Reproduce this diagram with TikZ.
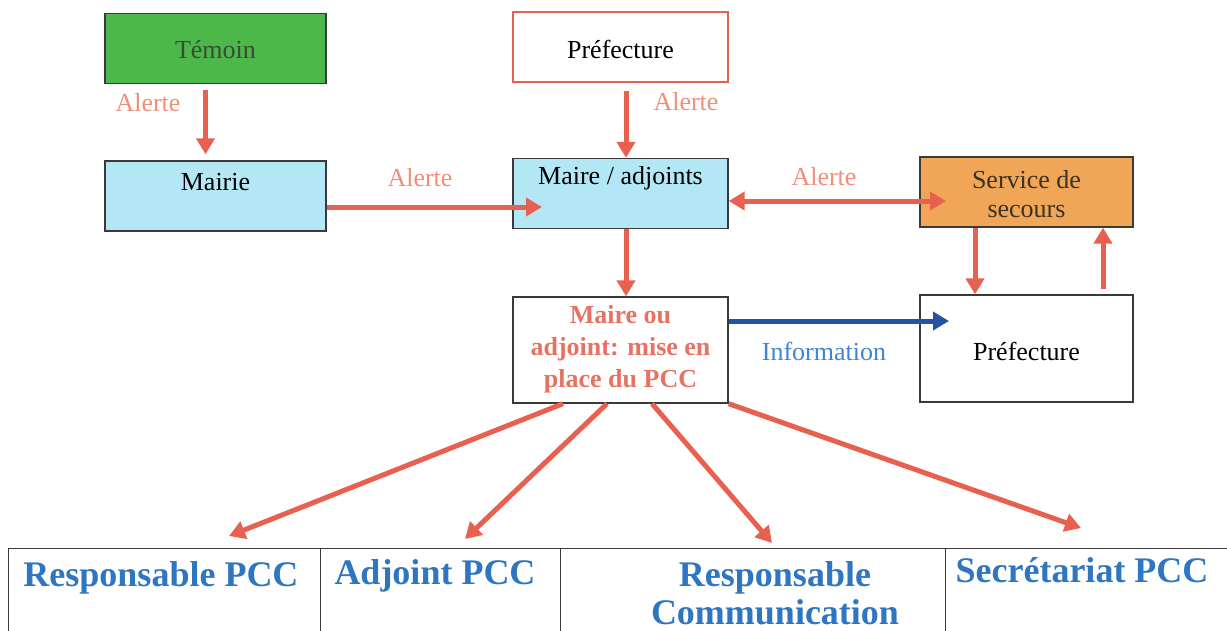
\documentclass[tikz,border=0pt]{standalone}
\usepackage{fontspec}
\setmainfont{Liberation Serif}
\usetikzlibrary{arrows.meta}
\definecolor{arrred}{HTML}{E8604F}
\definecolor{lblred}{HTML}{F08E78}
\definecolor{boldred}{HTML}{E87262}
\definecolor{grn}{HTML}{4DB84A}
\definecolor{lblue}{HTML}{B3E7F5}
\definecolor{orng}{HTML}{F0A656}
\definecolor{darkblue}{HTML}{2452A4}
\definecolor{infoblue}{HTML}{3C86D4}
\definecolor{pccblue}{HTML}{2E76C2}
\definecolor{edge}{HTML}{3A3A3A}
\definecolor{temtxt}{HTML}{3B4A36}
\definecolor{sertxt}{HTML}{3A3222}
\tikzset{
  box/.style={draw=edge, line width=1.3pt, rectangle, minimum width=221pt, minimum height=70pt, inner sep=0pt},
  txt/.style={font=\fontsize{26}{30}\selectfont, text=black, inner sep=0pt},
  lbl/.style={font=\fontsize{26}{30}\selectfont, text=lblred, inner sep=0pt},
  tip/.style={},
  arr/.style={draw=arrred, line width=5pt, -{Triangle[length=16pt,width=18pt]}},
  darr/.style={draw=arrred, line width=5pt, {Triangle[length=16pt,width=18pt]}-{Triangle[length=16pt,width=18pt]}},
  barr/.style={draw=darkblue, line width=5pt, -{Triangle[length=16pt,width=18pt]}},
  pcc/.style={font=\bfseries\fontsize{36}{38}\selectfont, text=pccblue, inner sep=0pt, align=center},
  cell/.style={draw=edge, line width=1.2pt, rectangle, anchor=north west, inner sep=0pt, minimum height=120pt}
}
\begin{document}
\begin{tikzpicture}[x=1pt,y=-1pt]
\useasboundingbox (0,0) rectangle (1227,630);
% boxes
\node[box, fill=grn] (temoin) at (215.5,48.5) {};
\node[txt, text=temtxt] (temoinT) at (215.5,50) {Témoin};
\node[box, fill=lblue] (mairie) at (215.5,196) {};
\node[txt] (mairieT) at (215.5,182) {Mairie};
\node[box, draw=arrred, minimum width=215pt] (pref1) at (620.5,47) {};
\node[txt] (pref1T) at (620.5,49) {Préfecture};
\node[box, fill=lblue, minimum width=215pt] (maire) at (620.5,193.5) {};
\node[txt] (maireT) at (620.5,178) {Maire / adjoints};
\node[box, fill=orng, minimum width=213pt] (service) at (1026.5,192) {};
\node[txt, text=sertxt, align=center] (serviceT) at (1026.5,194) {Service de\\[-1pt]secours};
\node[box, minimum width=213pt, minimum height=107pt] (pref2) at (1026.5,348.5) {};
\node[txt] (pref2T) at (1026.5,351) {Préfecture};
\node[box, minimum width=215pt, minimum height=106pt] (maireou) at (620.5,350) {};
\node[txt, font=\bfseries\fontsize{26}{32}\selectfont, text=boldred, align=center] (maireouT) at (620.5,349) {Maire ou\\adjoint: mise en\\place du PCC};
% labels
\node[lbl] (l1) at (148,103) {Alerte};
\node[lbl] (l2) at (686,102) {Alerte};
\node[lbl] (l3) at (420,178) {Alerte};
\node[lbl] (l4) at (824,177) {Alerte};
\node[lbl, text=infoblue] (l5) at (824,351) {Information};
% coordinates
\coordinate (c1) at (542,207);
\coordinate (c2) at (946,201);
\coordinate (c3) at (949,321);
\coordinate (e1) at (229,536);
\coordinate (e2) at (465,539);
\coordinate (e3) at (772,543);
\coordinate (e4) at (1081,528);
% arrows
\draw[arr] ([xshift=-10pt,yshift=-6pt]temoin.south) -- ([xshift=-10pt,yshift=6pt]mairie.north);
\draw[arr] ([xshift=5.5pt,yshift=-8pt]pref1.south) -- ([xshift=5.5pt]maire.north);
\draw[arr] ([yshift=-13.5pt]maire.west -| mairie.east) -- (c1);
\draw[darr] ([yshift=-7.5pt]maire.east) -- (c2);
\draw[arr] ([xshift=-51.5pt]service.south) -- ([xshift=-51.5pt]pref2.north);
\draw[arr] ([xshift=76.5pt,yshift=5pt]pref2.north) -- ([xshift=76.5pt]service.south);
\draw[arr] ([xshift=5.5pt]maire.south) -- ([xshift=5.5pt]maireou.north);
\draw[barr] ([yshift=29pt]maireou.east) -- (c3);
\draw[arr] ([xshift=-57.5pt]maireou.south) -- (e1);
\draw[arr] ([xshift=-13.5pt]maireou.south) -- (e2);
\draw[arr] ([xshift=31.5pt]maireou.south) -- (e3);
\draw[arr] (maireou.south east) -- (e4);
% table
\node[cell, minimum width=312pt] (t1) at (8,548) {};
\node[cell, minimum width=240pt] (t2) at (320,548) {};
\node[cell, minimum width=385pt] (t3) at (560,548) {};
\node[cell, minimum width=300pt] (t4) at (945,548) {};
\node[pcc] (p1) at (161,578) {Responsable PCC};
\node[pcc] (p2) at (435,576) {Adjoint PCC};
\node[pcc] (p3) at (775,593) {Responsable\\Communication};
\node[pcc] (p4) at (1082,570) {Secrétariat PCC};
\end{tikzpicture}
\end{document}
